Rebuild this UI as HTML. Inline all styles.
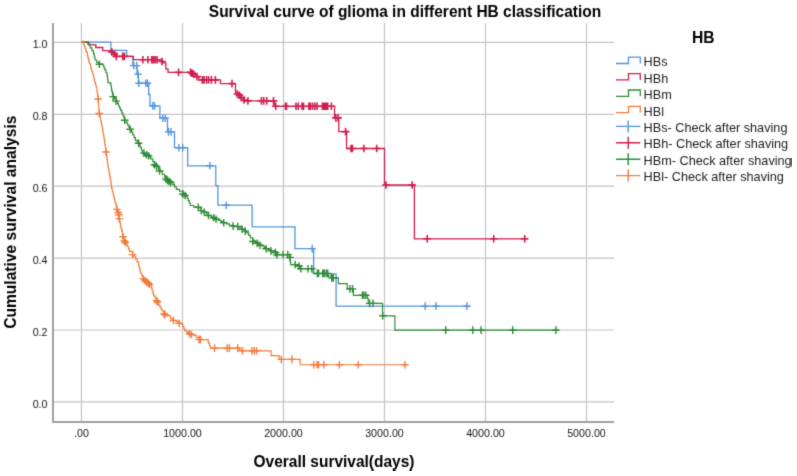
<!DOCTYPE html>
<html><head><meta charset="utf-8"><style>
html,body{margin:0;padding:0;background:#fff;}
svg{display:block;font-family:"Liberation Sans",sans-serif;}
</style></head><body>
<svg width="797" height="476" viewBox="0 0 797 476">
<defs><filter id="sb" x="0" y="0" width="100%" height="100%" color-interpolation-filters="sRGB"><feConvolveMatrix order="3" kernelMatrix="0.018 0.095 0.018 0.095 0.548 0.095 0.018 0.095 0.018" edgeMode="duplicate"/></filter></defs>
<rect width="797" height="476" fill="#fff"/>
<g filter="url(#sb)">
<g stroke="#c4c4c4" stroke-width="1.2"><line x1="81.5" y1="23" x2="81.5" y2="421" /><line x1="182.5" y1="23" x2="182.5" y2="421" /><line x1="283.5" y1="23" x2="283.5" y2="421" /><line x1="384.5" y1="23" x2="384.5" y2="421" /><line x1="485.5" y1="23" x2="485.5" y2="421" /><line x1="586.5" y1="23" x2="586.5" y2="421" /><line x1="53" y1="42.4" x2="614" y2="42.4" /><line x1="53" y1="114.3" x2="614" y2="114.3" /><line x1="53" y1="186.2" x2="614" y2="186.2" /><line x1="53" y1="258.1" x2="614" y2="258.1" /><line x1="53" y1="330" x2="614" y2="330" /><line x1="53" y1="401.9" x2="614" y2="401.9" /></g>
<g stroke="#a0a0a0" stroke-width="2" fill="none"><path d="M53,23V421.9H614"/></g>
<g fill="#151515" font-size="10.7"><text x="81.5" y="437.4" text-anchor="middle">.00</text><text x="182.5" y="437.4" text-anchor="middle">1000.00</text><text x="283.5" y="437.4" text-anchor="middle">2000.00</text><text x="384.5" y="437.4" text-anchor="middle">3000.00</text><text x="485.5" y="437.4" text-anchor="middle">4000.00</text><text x="586.5" y="437.4" text-anchor="middle">5000.00</text><text x="47.5" y="407.9" text-anchor="end">0.0</text><text x="47.5" y="336" text-anchor="end">0.2</text><text x="47.5" y="264.1" text-anchor="end">0.4</text><text x="47.5" y="192.2" text-anchor="end">0.6</text><text x="47.5" y="120.3" text-anchor="end">0.8</text><text x="47.5" y="48.4" text-anchor="end">1.0</text></g>
<text transform="translate(405,17.35) scale(1,1.03)" text-anchor="middle" font-size="15.5" font-weight="bold" fill="#000">Survival curve of glioma in different HB classification</text>
<text transform="translate(334,467.5) scale(1,1.05)" text-anchor="middle" font-size="15.5" font-weight="bold" fill="#000">Overall survival(days)</text>
<text transform="translate(16.2,222.2) rotate(-90)" text-anchor="middle" font-size="15.6" font-weight="bold" fill="#000">Cumulative survival analysis</text>
<text transform="translate(703.3,42.8) scale(1.01,1.02)" text-anchor="middle" font-size="15.5" font-weight="bold" fill="#000">HB</text>
<g font-size="12.7" fill="#1c1c1c"><path d="M616,63.5H628.5V57.2H640.3V63.5" stroke="#5294dc" stroke-width="1.3" fill="none"/><text x="643.6" y="66.4">HBs</text><path d="M616,79.9H628.5V73.6H640.3V79.9" stroke="#d01c4c" stroke-width="1.3" fill="none"/><text x="643.6" y="82.8">HBh</text><path d="M616,96.3H628.5V90H640.3V96.3" stroke="#2e8a34" stroke-width="1.3" fill="none"/><text x="643.6" y="99.2">HBm</text><path d="M616,112.7H628.5V106.4H640.3V112.7" stroke="#f07b3c" stroke-width="1.3" fill="none"/><text x="643.6" y="115.6">HBl</text><path d="M616,126.4H640.3M628.2,120.4V132.4" stroke="#5294dc" stroke-width="1.4" fill="none"/><text x="643.6" y="132">HBs- Check after shaving</text><path d="M616,142.8H640.3M628.2,136.8V148.8" stroke="#d01c4c" stroke-width="1.4" fill="none"/><text x="643.6" y="148.4">HBh- Check after shaving</text><path d="M616,159.2H640.3M628.2,153.2V165.2" stroke="#2e8a34" stroke-width="1.4" fill="none"/><text x="643.6" y="164.8">HBm- Check after shaving</text><path d="M616,175.6H640.3M628.2,169.6V181.6" stroke="#f07b3c" stroke-width="1.4" fill="none"/><text x="643.6" y="181.2">HBl- Check after shaving</text></g>
<g fill="none" stroke-linejoin="miter">
<path d="M81.3,42.2H110.9V50.3H126.7V56.5H132.8V65.6H137V74.1H138.4V83.2H148.7V94.5H150V105.9H159.9V118.1H167.5V131.9H174.5V147.7H187.7V165.8H215.8V185.6H217.9V205.2H252.1V226.8H295V248.6H313.6V273.9H336.1V306.1H470" stroke="#5294dc" stroke-width="1.3"/>
<path d="M129.9,65.6h7.6M133.7,61.8v7.6M132.8,65.6h7.6M136.6,61.8v7.6M134.2,74.1h7.6M138,70.3v7.6M135.1,83.2h7.6M138.9,79.4v7.6M141.9,83.2h7.6M145.7,79.4v7.6M143.7,83.2h7.6M147.5,79.4v7.6M148.9,105.9h7.6M152.7,102.1v7.6M150.8,105.9h7.6M154.6,102.1v7.6M159,118.1h7.6M162.8,114.3v7.6M161.5,118.1h7.6M165.3,114.3v7.6M164.7,131.9h7.6M168.5,128.1v7.6M167.2,131.9h7.6M171,128.1v7.6M175.1,147.7h7.6M178.9,143.9v7.6M178.9,147.7h7.6M182.7,143.9v7.6M206.1,165.8h7.6M209.9,162v7.6M222.5,205.2h7.6M226.3,201.4v7.6M308.4,248.6h7.6M312.2,244.8v7.6M421.4,306.1h7.6M425.2,302.3v7.6M432.2,306.1h7.6M436,302.3v7.6M463.1,306.1h7.6M466.9,302.3v7.6" stroke="#5294dc" stroke-width="1.4"/>
<path d="M81.3,42.2H88.5V44.9H95.8V47.5H102.8V50.6H110.9V52.2H113.2V53.9H115.4V56.4H133.3V59.7H162V62.8H165.8V68.8H168V72.4H190.5V74.2H196V76.6H199V79.9H220.5V83.6H235.5V92.6H238V95.2H241V97.6H244V100.9H274.2V106.3H334.6V117.9H338.8V131.6H346.6V148.5H384.5V185H414.4V238.8H527.8" stroke="#d01c4c" stroke-width="1.3"/>
<path d="M108,52h7.6M111.8,48.2v7.6M110.6,53.8h7.6M114.4,50v7.6M112.6,56.4h7.6M116.4,52.6v7.6M118.9,56.4h7.6M122.7,52.6v7.6M120.6,56.4h7.6M124.4,52.6v7.6M139.1,59.7h7.6M142.9,55.9v7.6M144.1,59.7h7.6M147.9,55.9v7.6M147.9,59.7h7.6M151.7,55.9v7.6M149.6,59.7h7.6M153.4,55.9v7.6M151.4,59.7h7.6M155.2,55.9v7.6M153.3,59.7h7.6M157.1,55.9v7.6M158.2,61.5h7.6M162,57.7v7.6M174.8,72.4h7.6M178.6,68.6v7.6M186.8,72.4h7.6M190.6,68.6v7.6M188.4,73.2h7.6M192.2,69.4v7.6M190,74.2h7.6M193.8,70.4v7.6M193.2,76.6h7.6M197,72.8v7.6M198.5,79.9h7.6M202.3,76.1v7.6M200.2,79.9h7.6M204,76.1v7.6M202.7,79.9h7.6M206.5,76.1v7.6M204.8,79.9h7.6M208.6,76.1v7.6M207.6,79.9h7.6M211.4,76.1v7.6M211.6,79.9h7.6M215.4,76.1v7.6M228.2,83.6h7.6M232,79.8v7.6M233.5,94h7.6M237.3,90.2v7.6M235.7,95.2h7.6M239.5,91.4v7.6M237.7,97.6h7.6M241.5,93.8v7.6M240.2,100h7.6M244,96.2v7.6M244.1,100.9h7.6M247.9,97.1v7.6M257.6,100.9h7.6M261.4,97.1v7.6M259.9,100.9h7.6M263.7,97.1v7.6M262.9,100.9h7.6M266.7,97.1v7.6M269.7,100.9h7.6M273.5,97.1v7.6M271.9,106.3h7.6M275.7,102.5v7.6M281.7,106.3h7.6M285.5,102.5v7.6M282.7,106.3h7.6M286.5,102.5v7.6M292.2,106.3h7.6M296,102.5v7.6M294.5,106.3h7.6M298.3,102.5v7.6M298.2,106.3h7.6M302,102.5v7.6M299.7,106.3h7.6M303.5,102.5v7.6M305.1,106.3h7.6M308.9,102.5v7.6M306.6,106.3h7.6M310.4,102.5v7.6M308.8,106.3h7.6M312.6,102.5v7.6M311.1,106.3h7.6M314.9,102.5v7.6M313.3,106.3h7.6M317.1,102.5v7.6M318.6,106.3h7.6M322.4,102.5v7.6M319.8,106.3h7.6M323.6,102.5v7.6M320.9,106.3h7.6M324.7,102.5v7.6M322.4,106.3h7.6M326.2,102.5v7.6M323.9,106.3h7.6M327.7,102.5v7.6M327.6,106.3h7.6M331.4,102.5v7.6M332,117.9h7.6M335.8,114.1v7.6M334.3,117.9h7.6M338.1,114.1v7.6M341.8,131.6h7.6M345.6,127.8v7.6M347.2,148.5h7.6M351,144.7v7.6M348.7,148.5h7.6M352.5,144.7v7.6M360.1,148.5h7.6M363.9,144.7v7.6M372.9,148.5h7.6M376.7,144.7v7.6M382.2,185h7.6M386,181.2v7.6M408.4,185h7.6M412.2,181.2v7.6M423.4,238.8h7.6M427.2,235v7.6M489.9,238.8h7.6M493.7,235v7.6M520.9,238.8h7.6M524.7,235v7.6" stroke="#d01c4c" stroke-width="1.6"/>
<path d="M81.3,42.2H83.8V42.3H86.3V42.4H87.8V44.1H90.1V47.8H92V50.9H93.5V53.9H94.3V56.9H95V60H96.6V62.2H98.8V63.8H99.4V64.2H102.9V65.2H103.8V67.6H104.8V69.9H105.9V72.7H107.1V75.4H107.4V77.9H107.7V80.3H108V82.8H110.8V84.2H111.1V86.5H111.4V88.8H111.7V91.1H112.4V93.8H113.1V96.6H114.6V98.8H116.1V101.1H117.2V103.4H118.4V105.7H119.5V108H120.6V110.4H121.7V112.8H122.8V115.2H123.8V117.8H124.7V120.3H126.1V122.5H127.4V124.8H128.8V127.1H130.2V129.3H131.5V132.1H132.8V134.9H134.1V137.6H135.4V140.4H137.3V142.6H139.2V144.7H140.2V147.3H141.3V150H142.3V152.6H144.4V153.9H146.5V155.2H148.6V157.1H150.7V158.9H152.8V161.6H154.9V164.2H156.7V166.6H158.4V169.1H160.2V171.5H162.3V174.2H164.4V176.8H167V179.4H169.6V182H172.8V184.6H174.6V187H176.4V189.4H179.5V191.2H182.9V194H186.2V196.2H187.2V198.5H188.3V200.8H189.3V203.2H190.4V205.5H193.8V207.1H196.1V207.4H198.3V207.8H201.3V210.6H204.3V212.1H206.4V213.8H208.5V215.5H211.2V216.7H213.8V217.8H216.1V219.3H218.6V220.4H221.2V221.6H223.7V222.7H226.6V223.9H229.4V225.2H233.1V226.1H235.4V226.4H237.7V226.8H239.9V228H242.2V229.2H245.2V231.1H246.8V232.8H248.7V235.4H250.5V238H252.8V240.2H255V242.3H258V244H260V245H262V246H264.2V247.3H266.4V248.7H268.7V249.8H271V250.9H273.2V251.8H275.5V252.6H277.3V254.7L289.9,254.7L289.9,258H290.2V260.2H290.4V262.4H290.7V264.6L296.1,264.6H298.9V266.5H299.8V268.7L313.3,268.7L313.3,273.4L328,273.4L328,276L331,276L331,277.9L338.3,277.9L338.3,283.6L347.3,283.6L347.3,288.9L353.4,288.9L353.4,295.3L367.3,295.3L367.3,298.4L368.2,298.4L368.2,303.4L382.5,303.4L382.5,315.8L394.9,315.8L394.9,330.1L559.4,330.1" stroke="#2e8a34" stroke-width="1.15"/>
<path d="M95.6,64.2h7.6M99.4,60.4v7.6M109.3,96.6h7.6M113.1,92.8v7.6M112.3,101.1h7.6M116.1,97.3v7.6M120.9,120.3h7.6M124.7,116.5v7.6M126.4,129.3h7.6M130.2,125.5v7.6M134.8,143.2h7.6M138.6,139.4v7.6M140.1,153.1h7.6M143.9,149.3v7.6M142.7,154.7h7.6M146.5,150.9v7.6M144.8,155.8h7.6M148.6,152v7.6M150.6,164.7h7.6M154.4,160.9v7.6M152.7,166.3h7.6M156.5,162.5v7.6M155.8,171h7.6M159.6,167.2v7.6M162.1,178.9h7.6M165.9,175.1v7.6M163.7,180.4h7.6M167.5,176.6v7.6M165.3,181.5h7.6M169.1,177.7v7.6M166.9,182.5h7.6M170.7,178.7v7.6M179.1,194h7.6M182.9,190.2v7.6M181.2,195.5h7.6M185,191.7v7.6M194.5,207.2h7.6M198.3,203.4v7.6M197.5,210.6h7.6M201.3,206.8v7.6M200.5,212.1h7.6M204.3,208.3v7.6M204.7,215.5h7.6M208.5,211.7v7.6M210,217.8h7.6M213.8,214v7.6M212.3,219.3h7.6M216.1,215.5v7.6M219.9,222.7h7.6M223.7,218.9v7.6M229.3,226.1h7.6M233.1,222.3v7.6M233.9,226.5h7.6M237.7,222.7v7.6M238.4,229.2h7.6M242.2,225.4v7.6M241.4,231.1h7.6M245.2,227.3v7.6M249,241.5h7.6M252.8,237.7v7.6M253.6,243.4h7.6M257.4,239.6v7.6M256.2,245.3h7.6M260,241.5v7.6M262.3,248.7h7.6M266.1,244.9v7.6M267.2,250.9h7.6M271,247.1v7.6M271.7,252.6h7.6M275.5,248.8v7.6M273.3,254.7h7.6M277.1,250.9v7.6M279.3,254.7h7.6M283.1,250.9v7.6M283.9,254.7h7.6M287.7,250.9v7.6M286.1,257.4h7.6M289.9,253.6v7.6M291.4,264.6h7.6M295.2,260.8v7.6M295.2,266h7.6M299,262.2v7.6M297,268.7h7.6M300.8,264.9v7.6M304.2,268.7h7.6M308,264.9v7.6M307.9,268.7h7.6M311.7,264.9v7.6M313.6,273.4h7.6M317.4,269.6v7.6M314.8,273.4h7.6M318.6,269.6v7.6M318.9,273.4h7.6M322.7,269.6v7.6M320.4,273.4h7.6M324.2,269.6v7.6M322.3,273.4h7.6M326.1,269.6v7.6M323.9,273.4h7.6M327.7,269.6v7.6M328,277.9h7.6M331.8,274.1v7.6M329.5,277.9h7.6M333.3,274.1v7.6M346.1,288.9h7.6M349.9,285.1v7.6M348.7,288.9h7.6M352.5,285.1v7.6M358.6,295.3h7.6M362.4,291.5v7.6M360.1,295.3h7.6M363.9,291.5v7.6M362,295.3h7.6M365.8,291.5v7.6M365.8,303.4h7.6M369.6,299.6v7.6M369.2,303.4h7.6M373,299.6v7.6M379,315.8h7.6M382.8,312v7.6M441.9,330.1h7.6M445.7,326.3v7.6M469,330.1h7.6M472.8,326.3v7.6M477.3,330.1h7.6M481.1,326.3v7.6M508.9,330.1h7.6M512.7,326.3v7.6M552.1,330.1h7.6M555.9,326.3v7.6" stroke="#2e8a34" stroke-width="1.4"/>
<path d="M81.3,42.2L82.2,42.2H83.8V44.6H84.5V46.5H85.2V48.4H85.8V50.3H86.3V52.2H87.4V55.3H87.8V57.2H88.3V59.1H88.8V61.4H89.4V63.7H90.6V67.4H91.2V69.3H91.7V71.2H92.5V74H93.4V77.2H94.1V79.6H94.7V82H95.4V84.7H96.2V87.5H96.9V90.2H97.3V93.1H97.7V96H98.1V98.9H98.3V101.3H98.5V103.8H98.7V106.2H98.9V108.6H99.1V111.1H99.3V113.5H99.8V116.1H100.3V118.8H100.8V121.4H101.4V124.1H101.9V126.7H102.4V129.4H102.9V132H103.3V134.5H103.7V137H104.1V139.5H104.5V142H104.8V144.5H105.2V147H105.6V149.5H106V152H106.4V154.5H106.7V157.1H107.1V159.6H107.4V162.2H107.8V164.7H108.1V167.3H108.5V169.8H109V172.4H109.5V174.9H110V177.4H110.5V180H110.9V182.8H111.2V185.6H111.6V188.4H112.3V191.2H113V194H113.7V196.8H114.3V199.3H114.9V201.8H115.6V204.4H116.2V206.9H116.8V209.4H117.8V212.1H118.9V214.7H119.1V216.8H119.3V218.9H119.7V221.2H120.2V223.6H120.6V226H121V228.3H121.7V231.1H122.4V233.9H123.1V236.7H123.7V238.8H124.2V240.9H126.3V244.1H127.3V246.5H128.4V249H129.4V251.4H132.6V254.6H134.1V256.7H135.7V258.8H137.1V261.8H138.5V264.7H139.1V267.5H139.8V270.4H140.4V273.2H141.8V276H143.2V278.9H145.7V281.1H148.3V283.3H150.8V285.5H151.5V288.1H152.2V290.7H152.9V293.3H153.6V295.9H155.1V298.2H156.5V300.6H157.4V302.5H158.4V304.4H159.6V306.6H160.9V308.8H162.1V311H164V313.9H166.9V315.8H170.6V318.6H173.5V320.5H176.3V321.4H179.1V323.3H182V324.3H182.9V326.5H183.9V328.7H184.8V330.9H187.2V332.3H189.5V333.7H191.9V334.6H194.3V335.6H196.7V337.5H199V339.4H201.3V339.5H203.7V339.7H206V339.8H208.3V342.8H209.4V345.5H210.5V348.1L239.9,348.1L239.9,350.8L271.1,350.8L271.1,355.6L279.1,355.6L279.1,359.4L300.2,359.4L300.2,364.7L408.2,364.7" stroke="#f07b3c" stroke-width="1.15"/>
<path d="M94.3,99h7.6M98.1,95.2v7.6M95.5,113.5h7.6M99.3,109.7v7.6M102.2,152h7.6M106,148.2v7.6M113,209.4h7.6M116.8,205.6v7.6M114.4,212.5h7.6M118.2,208.7v7.6M115.1,214.7h7.6M118.9,210.9v7.6M115.5,218.9h7.6M119.3,215.1v7.6M119.3,236.7h7.6M123.1,232.9v7.6M120.4,240.9h7.6M124.2,237.1v7.6M121.5,242.5h7.6M125.3,238.7v7.6M128.8,254.6h7.6M132.6,250.8v7.6M139.4,278.9h7.6M143.2,275.1v7.6M141.2,280.5h7.6M145,276.7v7.6M142.7,282h7.6M146.5,278.2v7.6M144.2,283h7.6M148,279.2v7.6M145.7,284.5h7.6M149.5,280.7v7.6M152.7,300.6h7.6M156.5,296.8v7.6M153.7,302h7.6M157.5,298.2v7.6M160.2,313.9h7.6M164,310.1v7.6M161.2,314.8h7.6M165,311v7.6M169.7,320.5h7.6M173.5,316.7v7.6M175.3,323.3h7.6M179.1,319.5v7.6M185.7,333.7h7.6M189.5,329.9v7.6M187.7,334.5h7.6M191.5,330.7v7.6M195.2,339.4h7.6M199,335.6v7.6M196.7,339.6h7.6M200.5,335.8v7.6M210.8,348.1h7.6M214.6,344.3v7.6M223.3,348.1h7.6M227.1,344.3v7.6M225.6,348.1h7.6M229.4,344.3v7.6M233.9,348.1h7.6M237.7,344.3v7.6M238.7,350.8h7.6M242.5,347v7.6M248.2,350.8h7.6M252,347v7.6M250.4,350.8h7.6M254.2,347v7.6M252.7,350.8h7.6M256.5,347v7.6M277.5,359.4h7.6M281.3,355.6v7.6M288.1,359.4h7.6M291.9,355.6v7.6M310,364.7h7.6M313.8,360.9v7.6M313.3,364.7h7.6M317.1,360.9v7.6M314.8,364.7h7.6M318.6,360.9v7.6M320.1,364.7h7.6M323.9,360.9v7.6M335.6,364.7h7.6M339.4,360.9v7.6M354.4,364.7h7.6M358.2,360.9v7.6M401.1,364.7h7.6M404.9,360.9v7.6" stroke="#f07b3c" stroke-width="1.4"/>
</g>
</g>
</svg>
</body></html>
